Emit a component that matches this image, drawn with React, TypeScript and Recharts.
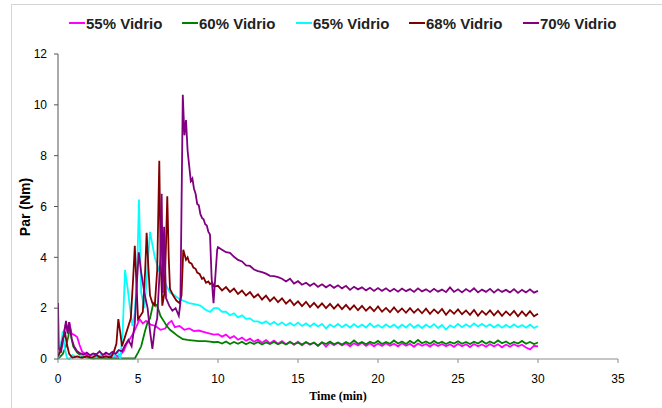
import { Line, LineChart, XAxis, YAxis } from 'recharts'

const SERIES_NAMES = ['55% Vidrio', '60% Vidrio', '65% Vidrio', '68% Vidrio', '70% Vidrio']
const SERIES_COLORS = ['#ff00ff', '#008000', '#00ffff', '#800000', '#800080']

const X_TICKS = [0, 5, 10, 15, 20, 25, 30, 35]
const Y_TICKS = [0, 2, 4, 6, 8, 10, 12]

// start-up part (0 - 10 min), [time, torque]
const early55: [number, number][] = [
  [0, 0.1], [0.2, 0.6], [0.35, 1.0], [0.5, 1.4], [0.6, 1.1], [0.7, 1.45], [0.85, 1.0], [1.0, 0.95],
  [1.2, 0.86], [1.35, 0.55], [1.5, 0.3], [1.7, 0.2], [2.0, 0.12], [2.3, 0.2], [2.6, 0.1], [2.9, 0.18],
  [3.2, 0.1], [3.5, 0.15], [3.8, 0.1], [4.1, 0.3], [4.3, 0.6], [4.5, 0.8], [4.7, 1.0], [4.85, 1.2],
  [5.1, 1.57], [5.3, 1.4], [5.5, 1.5], [5.8, 1.35], [6.1, 1.3], [6.4, 1.15], [6.7, 1.2], [6.9, 1.4],
  [7.1, 1.5], [7.3, 1.25], [7.6, 1.3], [7.9, 1.15], [8.2, 1.2], [8.5, 1.1], [8.8, 1.12], [9.2, 1.05],
  [9.5, 1.0], [9.75, 0.96],
]
const early60: [number, number][] = [
  [0, 0], [0.3, 0.2], [0.5, 0.5], [0.65, 0.9], [0.75, 1.25], [0.85, 0.8], [0.95, 0.5], [1.2, 0.25],
  [1.5, 0.1], [1.8, 0.05], [2.2, 0.02], [2.6, 0.04], [3.0, 0.02], [3.5, 0.03], [4.0, 0.02], [4.5, 0.02],
  [4.8, 0.02], [5.0, 0.25], [5.2, 0.5], [5.44, 1.1], [5.6, 1.45], [5.75, 1.6], [5.96, 2.2], [6.2, 2.1],
  [6.4, 1.7], [6.6, 1.5], [6.8, 1.3], [7.0, 1.15], [7.2, 1.05], [7.5, 0.9], [7.8, 0.78], [8.1, 0.75],
  [8.5, 0.72], [8.8, 0.7], [9.2, 0.7], [9.5, 0.68], [9.75, 0.66],
]
const early65: [number, number][] = [
  [0, 0], [0.15, 0.4], [0.3, 1.1], [0.4, 0.5], [0.55, 0.05], [0.7, 0], [0.9, 0.15], [1.2, 0.08],
  [1.5, 0.15], [1.8, 0.1], [2.1, 0.18], [2.4, 0.08], [2.7, 0.16], [3.0, 0.1], [3.3, 0.2], [3.5, 0.1],
  [3.7, 0.3], [3.9, 0.0], [4.05, 1.2], [4.19, 3.5], [4.35, 2.8], [4.5, 2.0], [4.65, 1.3], [4.8, 1.8],
  [4.95, 3.5], [5.06, 6.27], [5.2, 2.6], [5.4, 2.0], [5.55, 3.2], [5.75, 5.0], [5.9, 4.5], [6.05, 4.0],
  [6.3, 3.5], [6.6, 3.1], [7.0, 2.6], [7.3, 2.5], [7.6, 2.35], [8.2, 2.2], [8.6, 2.15], [8.9, 2.1],
  [9.2, 1.95], [9.5, 1.85], [9.75, 2.0],
]
const early68: [number, number][] = [
  [0, 0.1], [0.15, 0.3], [0.3, 0.8], [0.45, 1.0], [0.55, 0.6], [0.7, 0.2], [0.9, 0.05], [1.2, 0.1],
  [1.5, 0.04], [1.8, 0.12], [2.1, 0.05], [2.4, 0.15], [2.7, 0.06], [3.0, 0.1], [3.3, 0.05], [3.5, 0.3],
  [3.65, 0.6], [3.77, 1.57], [3.9, 1.0], [4.0, 0.5], [4.2, 0.9], [4.4, 1.3], [4.55, 1.6], [4.7, 3.2],
  [4.8, 4.45], [4.9, 3.0], [5.0, 1.57], [5.15, 1.7], [5.3, 1.85], [5.45, 3.5], [5.54, 4.97], [5.65, 3.6],
  [5.75, 2.5], [5.9, 2.2], [6.05, 2.1], [6.2, 3.5], [6.33, 7.8], [6.42, 3.8], [6.52, 2.1], [6.65, 2.6],
  [6.75, 4.5], [6.83, 6.4], [6.92, 4.0], [7.0, 2.75], [7.2, 2.5], [7.4, 2.3], [7.6, 2.2], [7.72, 2.5],
  [7.83, 4.3], [8.0, 3.9], [8.1, 4.0], [8.2, 3.8], [8.35, 3.75], [8.46, 3.6], [8.6, 3.55], [8.7, 3.4],
  [8.85, 3.35], [9.0, 3.15], [9.1, 3.2], [9.25, 3.0], [9.4, 3.05], [9.5, 2.95], [9.65, 3.0], [9.75, 2.85],
]
const early70: [number, number][] = [
  [0, 2.2], [0.05, 0.4], [0.2, 0.3], [0.35, 0.9], [0.5, 1.5], [0.6, 1.0], [0.7, 1.45], [0.85, 0.8],
  [1.0, 0.5], [1.2, 0.3], [1.4, 0.22], [1.6, 0.18], [1.8, 0.25], [2.0, 0.15], [2.2, 0.22], [2.4, 0.18],
  [2.6, 0.3], [2.8, 0.16], [3.0, 0.25], [3.2, 0.18], [3.4, 0.28], [3.6, 0.2], [3.8, 0.35], [4.0, 0.3],
  [4.2, 0.55], [4.4, 0.75], [4.6, 0.5], [4.8, 1.4], [4.95, 3.2], [5.05, 4.2], [5.2, 3.4], [5.4, 2.6],
  [5.6, 2.0], [5.75, 1.1], [5.9, 0.4], [6.05, 1.2], [6.2, 1.6], [6.4, 4.0], [6.48, 6.5], [6.55, 2.6],
  [6.63, 5.2], [6.75, 2.4], [6.95, 2.1], [7.15, 1.9], [7.35, 2.0], [7.55, 1.7], [7.65, 2.2], [7.8, 10.4],
  [7.9, 8.8], [8.0, 9.4], [8.1, 8.2], [8.2, 7.6], [8.3, 7.0], [8.4, 7.1], [8.5, 6.7], [8.6, 6.5],
  [8.7, 6.1], [8.8, 6.05], [8.9, 5.7], [9.0, 5.55], [9.1, 5.5], [9.2, 5.3], [9.3, 5.25], [9.4, 5.0],
  [9.5, 4.9], [9.6, 3.2], [9.72, 2.2], [9.85, 3.4], [9.95, 4.3],
]

// steady part (10 - 30 min)
const tailTime = [
  10, 10.25, 10.5, 10.75, 11, 11.25, 11.5, 11.75, 12, 12.25, 12.5, 12.75, 13, 13.25, 13.5, 13.75,
  14, 14.25, 14.5, 14.75, 15, 15.25, 15.5, 15.75, 16, 16.25, 16.5, 16.75, 17, 17.25, 17.5, 17.75,
  18, 18.25, 18.5, 18.75, 19, 19.25, 19.5, 19.75, 20, 20.25, 20.5, 20.75, 21, 21.25, 21.5, 21.75,
  22, 22.25, 22.5, 22.75, 23, 23.25, 23.5, 23.75, 24, 24.25, 24.5, 24.75, 25, 25.25, 25.5, 25.75,
  26, 26.25, 26.5, 26.75, 27, 27.25, 27.5, 27.75, 28, 28.25, 28.5, 28.75, 29, 29.25, 29.5, 29.75, 30,
]
const tail55 = [
  0.98, 0.88, 0.96, 0.82, 0.9, 0.76, 0.84, 0.72, 0.8, 0.68, 0.76, 0.64, 0.74, 0.62, 0.72, 0.6,
  0.7, 0.58, 0.68, 0.56, 0.68, 0.54, 0.66, 0.56, 0.64, 0.53, 0.65, 0.48, 0.64, 0.54, 0.64, 0.53,
  0.62, 0.5, 0.62, 0.53, 0.64, 0.52, 0.62, 0.5, 0.61, 0.51, 0.62, 0.52, 0.6, 0.5, 0.62, 0.52,
  0.6, 0.48, 0.61, 0.52, 0.59, 0.49, 0.6, 0.51, 0.59, 0.5, 0.58, 0.48, 0.6, 0.5, 0.58, 0.47,
  0.59, 0.5, 0.57, 0.48, 0.59, 0.49, 0.58, 0.46, 0.57, 0.48, 0.58, 0.5, 0.56, 0.45, 0.38, 0.52, 0.5,
]
const tail60 = [
  0.67, 0.61, 0.69, 0.59, 0.67, 0.6, 0.68, 0.58, 0.66, 0.59, 0.67, 0.57, 0.65, 0.59, 0.67, 0.58,
  0.65, 0.57, 0.66, 0.59, 0.64, 0.57, 0.67, 0.58, 0.65, 0.52, 0.66, 0.59, 0.69, 0.58, 0.65, 0.57,
  0.67, 0.59, 0.73, 0.6, 0.67, 0.58, 0.68, 0.61, 0.71, 0.59, 0.67, 0.6, 0.73, 0.61, 0.69, 0.59,
  0.71, 0.61, 0.75, 0.62, 0.69, 0.6, 0.71, 0.61, 0.68, 0.59, 0.67, 0.61, 0.7, 0.6, 0.67, 0.59,
  0.68, 0.61, 0.71, 0.6, 0.69, 0.61, 0.73, 0.62, 0.69, 0.59, 0.67, 0.61, 0.71, 0.6, 0.67, 0.59, 0.65,
]
const tail65 = [
  2.0, 1.86, 1.86, 1.72, 1.8, 1.64, 1.72, 1.58, 1.6, 1.48, 1.48, 1.4, 1.48, 1.36, 1.46, 1.34,
  1.44, 1.32, 1.42, 1.31, 1.43, 1.3, 1.4, 1.28, 1.4, 1.28, 1.38, 1.2, 1.36, 1.26, 1.38, 1.25,
  1.36, 1.24, 1.37, 1.25, 1.35, 1.24, 1.4, 1.25, 1.34, 1.23, 1.36, 1.25, 1.35, 1.22, 1.35, 1.24,
  1.38, 1.23, 1.34, 1.22, 1.35, 1.24, 1.37, 1.22, 1.34, 1.16, 1.32, 1.24, 1.38, 1.25, 1.36, 1.26,
  1.4, 1.28, 1.38, 1.27, 1.36, 1.24, 1.35, 1.23, 1.34, 1.24, 1.36, 1.25, 1.34, 1.23, 1.35, 1.22, 1.3,
]
const tail68 = [
  2.88, 2.7, 2.83, 2.64, 2.77, 2.56, 2.69, 2.5, 2.63, 2.42, 2.55, 2.34, 2.49, 2.28, 2.43, 2.24,
  2.39, 2.18, 2.33, 2.12, 2.27, 2.08, 2.25, 2.04, 2.21, 2.02, 2.19, 2.0, 2.17, 1.98, 2.15, 1.96,
  2.13, 1.94, 2.11, 1.92, 2.09, 1.9, 2.05, 1.88, 2.07, 1.86, 2.01, 1.84, 2.03, 1.84, 1.99, 1.82,
  2.0, 1.82, 1.97, 1.8, 1.98, 1.78, 1.95, 1.8, 1.97, 1.74, 1.93, 1.78, 1.95, 1.76, 1.91, 1.74,
  1.93, 1.7, 1.89, 1.74, 1.91, 1.72, 1.89, 1.7, 1.87, 1.72, 1.89, 1.68, 1.87, 1.7, 1.88, 1.68, 1.78,
]
const tail70 = [
  4.4, 4.3, 4.2, 4.18, 4.02, 3.9, 3.84, 3.68, 3.66, 3.52, 3.46, 3.42, 3.36, 3.27, 3.26, 3.22,
  3.16, 3.05, 3.16, 2.97, 3.06, 2.92, 3.0, 2.88, 2.98, 2.84, 2.94, 2.82, 2.92, 2.8, 2.9, 2.78,
  2.88, 2.72, 2.84, 2.74, 2.82, 2.7, 2.8, 2.68, 2.79, 2.68, 2.78, 2.66, 2.76, 2.65, 2.77, 2.67,
  2.75, 2.64, 2.78, 2.66, 2.74, 2.64, 2.76, 2.65, 2.73, 2.63, 2.82, 2.64, 2.74, 2.62, 2.75, 2.65,
  2.78, 2.62, 2.73, 2.64, 2.76, 2.61, 2.74, 2.64, 2.72, 2.62, 2.75, 2.6, 2.72, 2.62, 2.74, 2.61, 2.68,
]

function toPoints(early: [number, number][], tail: number[]) {
  return [
    ...early.map(([t, v]) => ({ t, v })),
    ...tailTime.map((t, i) => ({ t, v: tail[i] })),
  ]
}

const series = [
  toPoints(early55, tail55),
  toPoints(early60, tail60),
  toPoints(early65, tail65),
  toPoints(early68, tail68),
  toPoints(early70, tail70),
]

const LEGEND_LEFT = [57, 170, 284, 397, 511]
const SANS = '"Liberation Sans", Arial, sans-serif'

export default function App() {
  return (
    <div
      style={{
        position: 'absolute',
        left: 11,
        top: 4,
        width: 660,
        height: 410,
        borderLeft: '1px solid #d4d4d4',
        borderTop: '1px solid #d4d4d4',
        background: '#fff',
        fontFamily: SANS,
      }}
    >
      {SERIES_NAMES.map((name, i) => (
        <div
          key={name}
          style={{
            position: 'absolute',
            left: LEGEND_LEFT[i],
            top: 9,
            height: 18,
            display: 'flex',
            alignItems: 'center',
            fontSize: 15,
            fontWeight: 'bold',
            color: '#222',
            whiteSpace: 'nowrap',
          }}
        >
          <svg width={16} height={4} style={{ marginRight: 1 }}>
            <line x1={0} y1={2} x2={16} y2={2} stroke={SERIES_COLORS[i]} strokeWidth={2} />
          </svg>
          {name}
        </div>
      ))}
      <div
        style={{
          position: 'absolute',
          left: 13,
          top: 202,
          transform: 'translate(-50%, -50%) rotate(-90deg)',
          fontSize: 14,
          fontWeight: 'bold',
          whiteSpace: 'nowrap',
        }}
      >
        Par (Nm)
      </div>
      <div
        style={{
          position: 'absolute',
          left: 326,
          top: 391,
          transform: 'translate(-50%, -50%)',
          fontSize: 12,
          fontWeight: 'bold',
          fontFamily: '"Liberation Serif", "Times New Roman", serif',
          whiteSpace: 'nowrap',
        }}
      >
        Time (min)
      </div>
      <LineChart width={648} height={400} margin={{ top: 49, right: 42, bottom: 0, left: 0 }}>
        <XAxis
          dataKey="t"
          type="number"
          domain={[0, 35]}
          ticks={X_TICKS}
          allowDataOverflow
          height={46}
          tickSize={4}
          tickMargin={11}
          stroke="#8c8c8c"
          tick={{ fontSize: 12, fill: '#000', fontFamily: SANS }}
        />
        <YAxis
          type="number"
          domain={[0, 12]}
          ticks={Y_TICKS}
          width={46}
          tickSize={4}
          tickMargin={7}
          stroke="#555"
          tick={{ fontSize: 12, fill: '#000', fontFamily: SANS }}
        />
        {series.map((data, i) => (
          <Line
            key={SERIES_NAMES[i]}
            data={data}
            dataKey="v"
            type="linear"
            stroke={SERIES_COLORS[i]}
            strokeWidth={1.8}
            dot={false}
            isAnimationActive={false}
          />
        ))}
      </LineChart>
    </div>
  )
}
